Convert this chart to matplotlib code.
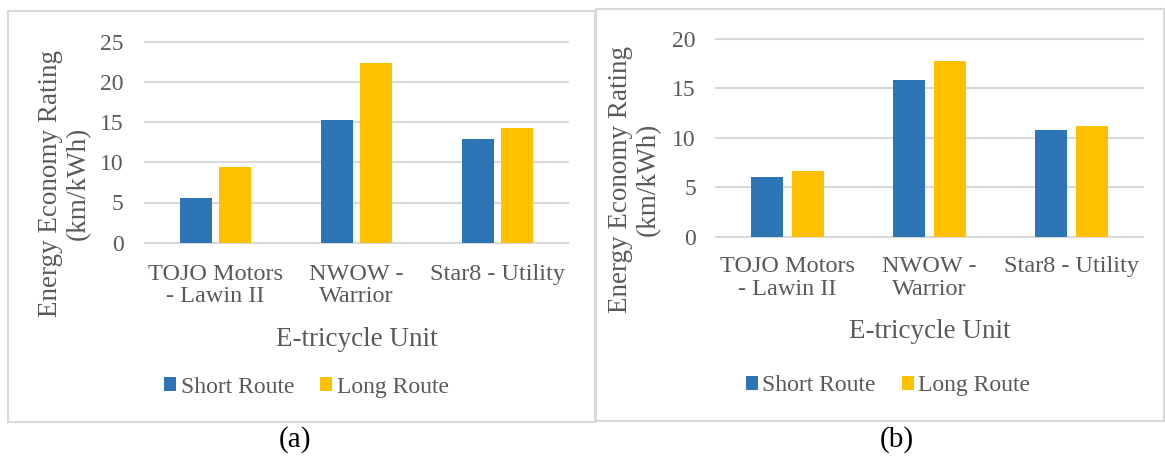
import numpy as np
import matplotlib
matplotlib.use("Agg")
import matplotlib.pyplot as plt
from matplotlib.patches import Rectangle

# data
units = ["TOJO Motors\n- Lawin II", "NWOW -\nWarrior", "Star8 - Utility"]
series_names = ["Short Route", "Long Route"]
short_a = [5.6, 15.2, 12.9]
long_a = [9.4, 22.3, 14.3]
short_b = [6.0, 15.8, 10.75]
long_b = [6.6, 17.75, 11.2]
yticks_a = [0, 5, 10, 15, 20, 25]
yticks_b = [0, 5, 10, 15, 20]

BLUE = "#2E75B6"
GOLD = "#FFC000"
TXT = "#595959"
GRID = "#D9D9D9"

plt.rcParams["font.family"] = ["Liberation Serif", "DejaVu Serif"]
plt.rcParams["text.color"] = TXT

W, H = 1165, 459
fig = plt.figure(figsize=(W / 100, H / 100), dpi=100)


def px_box(x0, x1, ytop, ybot):
    return [x0 / W, 1 - ybot / H, (x1 - x0) / W, (ybot - ytop) / H]


def panel(rect, short, long_, yticks, width, off, ylab_xy, xlab_y, leg_xy, ypad, xpad):
    ax = fig.add_axes(rect)
    x = np.arange(len(units))
    ax.bar(x - off, short, width, color=BLUE, label=series_names[0], zorder=3)
    ax.bar(x + off, long_, width, color=GOLD, label=series_names[1], zorder=3)
    ax.set_xlim(-0.5, len(units) - 0.5)
    ax.set_ylim(yticks[0], yticks[-1])
    ax.set_yticks(yticks)
    ax.set_xticks(x)
    ax.set_xticklabels(units, fontsize=17.5, color=TXT, linespacing=1.12)
    ax.tick_params(axis="y", length=0, pad=ypad, labelsize=17, labelcolor=TXT)
    ax.tick_params(axis="x", length=0, pad=xpad)
    for s in ax.spines.values():
        s.set_visible(False)
    ax.grid(axis="y", color=GRID, linewidth=1.5, zorder=0)
    ax.grid(axis="x", visible=False)
    for gl in ax.yaxis.get_gridlines():
        gl.set_clip_on(False)
    ax.set_axisbelow(True)

    ax.set_ylabel("Energy Economy Rating\n(km/kWh)", fontsize=19.5, color=TXT,
                  linespacing=1.15)
    ax.yaxis.label.set_va("center")
    ax.yaxis.set_label_coords(*ylab_xy)
    ax.set_xlabel("E-tricycle Unit", fontsize=19.5, color=TXT)
    ax.xaxis.label.set_va("center")
    ax.xaxis.set_label_coords(0.5, xlab_y)

    ax.legend(loc="center", bbox_to_anchor=leg_xy, ncol=2, frameon=False,
              fontsize=17, handlelength=0.5, handleheight=0.55,
              handletextpad=0.2, columnspacing=1.1, labelcolor=TXT)
    return ax


panel(px_box(145, 568, 41.7, 242.7), short_a, long_a, yticks_a,
      0.228, 0.141, (-0.19, 0.297), -0.484, (0.382, -0.718), 15.5, 15)
panel(px_box(716, 1143, 38.7, 236.7), short_b, long_b, yticks_b,
      0.225, 0.143, (-0.192, 0.291), -0.481, (0.403, -0.754), 14.5, 14)

# panel frames
for x0, x1, yt, yb in [(7.7, 595, 11, 422), (595.7, 1164, 9.3, 420.7)]:
    fig.add_artist(Rectangle((x0 / W, 1 - yb / H), (x1 - x0) / W, (yb - yt) / H,
                             transform=fig.transFigure, fill=False,
                             edgecolor=GRID, linewidth=1.5))

fig.text(295 / W, 1 - 440 / H, "(a)", fontsize=21, color="black",
         ha="center", va="center")
fig.text(897 / W, 1 - 440 / H, "(b)", fontsize=21, color="black",
         ha="center", va="center")

fig.savefig("out.png", dpi=100)
